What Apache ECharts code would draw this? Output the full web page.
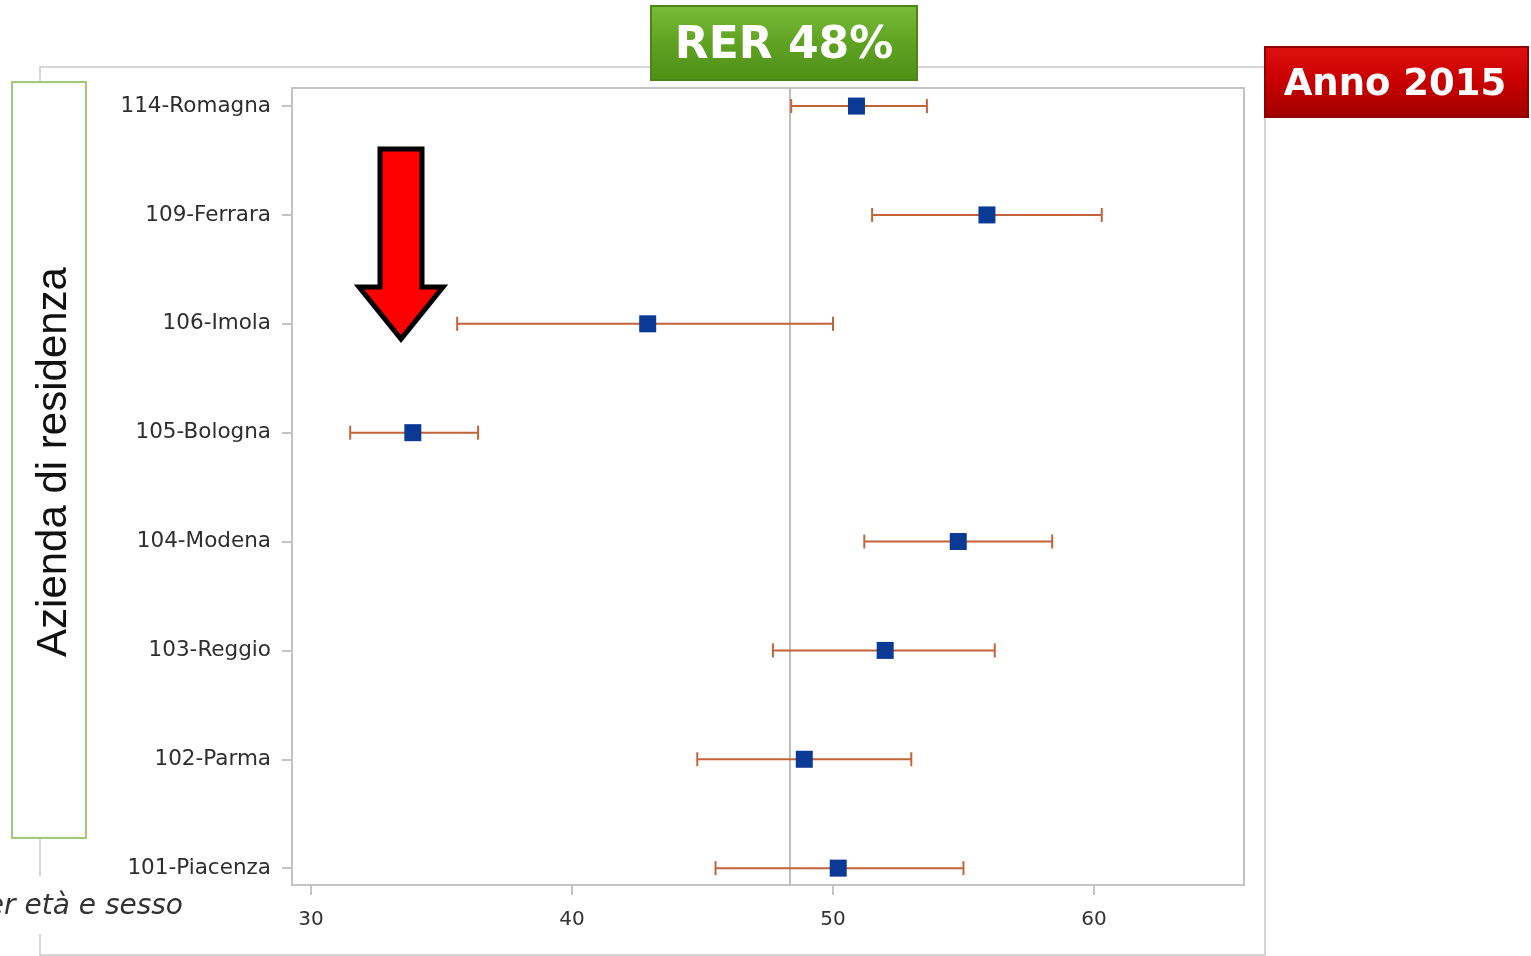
<!DOCTYPE html>
<html>
<head>
<meta charset="utf-8">
<script src="https://cdn.jsdelivr.net/npm/echarts@6/dist/echarts.min.js"></script>
<style>html,body{margin:0;padding:0;background:#fff}#c{width:1531px;height:956px}</style>
</head>
<body>
<div id="c"></div>
<script>
const categories = ['101-Piacenza','102-Parma','103-Reggio','104-Modena','105-Bologna','106-Imola','109-Ferrara','114-Romagna'];
const estimate = [50.2, 48.9, 52.0, 54.8, 33.9, 42.9, 55.9, 50.9];
const lower    = [45.5, 44.8, 47.7, 51.2, 31.5, 35.6, 51.5, 48.4];
const upper    = [55.0, 53.0, 56.2, 58.4, 36.4, 50.0, 60.3, 53.6];
const xTicks = [30, 40, 50, 60];
const refValue = 48.35;
const refLabel = 'RER 48%';
const yearLabel = 'Anno 2015';
const yTitle = 'Azienda di residenza';
const footText = 'er età e sesso';

const chart = echarts.init(document.getElementById('c'));
const catIdx = categories.map((_, i) => i);
const gray = '#c4c4c4';

chart.setOption({
  animation: false,
  grid: {left: 292, top: 88, width: 952, height: 797, show: true, borderColor: gray, borderWidth: 2, backgroundColor: '#fff'},
  xAxis: {
    type: 'value', min: 29.27, max: 65.75,
    splitLine: {show: false},
    axisLine: {show: false, onZero: false},
    axisTick: {show: true, inside: false, length: 10, lineStyle: {color: gray, width: 2}, customValues: xTicks},
    axisLabel: {customValues: xTicks, color: '#333', fontSize: 20, fontFamily: 'DejaVu Sans', margin: 25}
  },
  yAxis: {
    type: 'value', min: -0.155, max: 7.166,
    splitLine: {show: false},
    axisLine: {show: false, onZero: false},
    axisTick: {show: true, inside: false, length: 10, lineStyle: {color: gray, width: 2}, customValues: catIdx},
    axisLabel: {customValues: catIdx, formatter: v => categories[Math.round(v)] || '', color: '#2e2e2e', fontSize: 21.5, fontFamily: 'DejaVu Sans', margin: 21}
  },
  series: [
    {
      type: 'custom',
      data: catIdx.map(i => [i, lower[i], upper[i]]),
      encode: {x: [1, 2], y: 0},
      renderItem: function (params, api) {
        const y = api.value(0);
        const p1 = api.coord([api.value(1), y]);
        const p2 = api.coord([api.value(2), y]);
        const h = 7;
        const st = {stroke: '#c4633a', lineWidth: 2};
        return {type: 'group', children: [
          {type: 'line', shape: {x1: p1[0], y1: p1[1], x2: p2[0], y2: p2[1]}, style: st},
          {type: 'line', shape: {x1: p1[0], y1: p1[1] - h, x2: p1[0], y2: p1[1] + h}, style: st},
          {type: 'line', shape: {x1: p2[0], y1: p2[1] - h, x2: p2[0], y2: p2[1] + h}, style: st}
        ]};
      },
      z: 3
    },
    {
      type: 'scatter',
      data: catIdx.map(i => [estimate[i], i]),
      symbol: 'rect', symbolSize: 17,
      itemStyle: {color: '#0b3a96', opacity: 1},
      z: 4,
      markLine: {
        silent: true, symbol: 'none', label: {show: false},
        lineStyle: {color: '#bdbdbd', width: 2, type: 'solid', opacity: 1},
        data: [{xAxis: refValue}],
        z: 2
      }
    }
  ],
  graphic: [
    {type: 'polyline', shape: {points: [[40, 81], [40, 67], [651, 67]]}, style: {stroke: '#d6d6d6', lineWidth: 2, fill: null}, z: 0},
    {type: 'polyline', shape: {points: [[917, 67], [1265, 67], [1265, 956]]}, style: {stroke: '#d6d6d6', lineWidth: 2, fill: null}, z: 0},
    {type: 'line', shape: {x1: 40, y1: 838, x2: 40, y2: 876}, style: {stroke: '#d6d6d6', lineWidth: 2}, z: 0},
    {type: 'polyline', shape: {points: [[40, 934], [40, 955], [1265, 955]]}, style: {stroke: '#d6d6d6', lineWidth: 2, fill: null}, z: 0},
    {type: 'rect', shape: {x: 12, y: 82, width: 74, height: 756}, style: {fill: '#fff', stroke: '#9cc97c', lineWidth: 2}, z: 5},
    {type: 'text', x: 54, y: 462, rotation: Math.PI / 2, style: {text: yTitle, fill: '#111', font: '42px "Liberation Sans"', align: 'center', verticalAlign: 'middle'}, z: 6},
    {type: 'text', x: 183, y: 907, style: {text: footText, fill: '#333', font: 'italic 28px "DejaVu Sans"', align: 'right', verticalAlign: 'middle'}, z: 6},
    {type: 'rect', shape: {x: 651, y: 6, width: 266, height: 74},
      style: {fill: new echarts.graphic.LinearGradient(0, 0, 0, 1, [{offset: 0, color: '#7bbd3a'}, {offset: 0.5, color: '#5fa222'}, {offset: 1, color: '#4f8f17'}]), stroke: '#4a8616', lineWidth: 2}, z: 7},
    {type: 'text', x: 784, y: 47, style: {text: refLabel, fill: '#fff', font: 'bold 44px "DejaVu Sans"', align: 'center', verticalAlign: 'middle'}, z: 8},
    {type: 'rect', shape: {x: 1265, y: 47, width: 263, height: 70},
      style: {fill: new echarts.graphic.LinearGradient(0, 0, 0, 1, [{offset: 0, color: '#e01010'}, {offset: 0.5, color: '#c80000'}, {offset: 1, color: '#a00000'}]), stroke: '#900000', lineWidth: 2}, z: 7},
    {type: 'text', x: 1395, y: 85, style: {text: yearLabel, fill: '#fff', font: 'bold 37px "DejaVu Sans"', align: 'center', verticalAlign: 'middle'}, z: 8},
    {type: 'polygon', shape: {points: [[380, 149], [422, 149], [422, 287], [443, 287], [401, 339], [359, 287], [380, 287]]},
      style: {fill: '#ff0000', stroke: '#000', lineWidth: 5, lineJoin: 'miter'}, z: 9}
  ]
});
</script>
</body>
</html>
